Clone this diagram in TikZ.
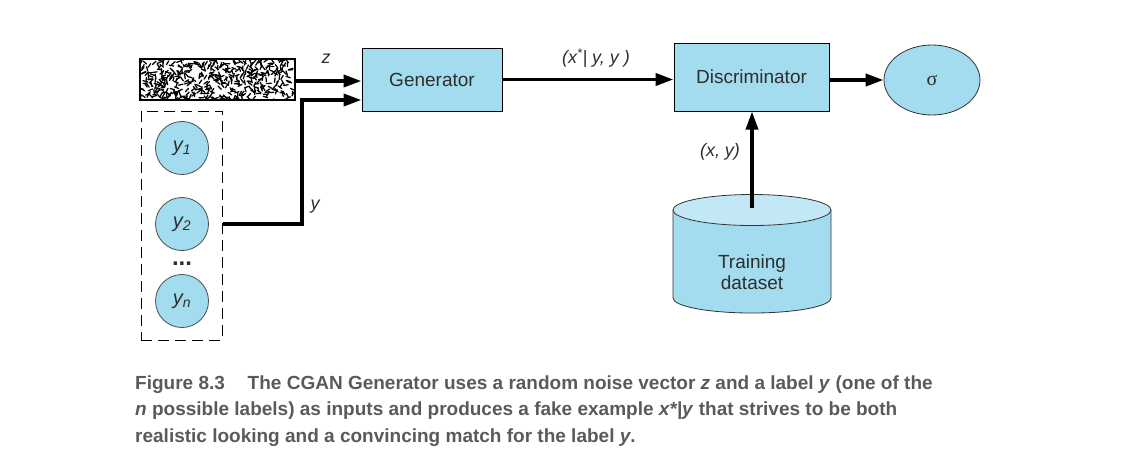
\documentclass[tikz,border=0pt]{standalone}
\usepackage{fontspec}
\setmainfont{Liberation Sans}
\newfontfamily\capfont{Liberation Sans}
\newfontfamily\serfont{Liberation Serif}
\usetikzlibrary{arrows.meta,shapes.geometric}
\definecolor{nodeblue}{HTML}{A3DCEF}
\definecolor{topblue}{HTML}{C2E8F6}
\definecolor{txt}{HTML}{2E2E2E}
\definecolor{capgray}{HTML}{5A5A5A}
\begin{document}
\begin{tikzpicture}[x=1pt,y=-1pt,
  box/.style={draw=black, line width=1pt, fill=nodeblue, inner sep=0pt, text=txt, font=\fontsize{19}{22}\selectfont},
  lab/.style={circle, draw=black!70, line width=0.8pt, fill=nodeblue, minimum size=53pt, inner sep=0pt, text=txt, font=\fontsize{20}{22}\selectfont\itshape},
  conn/.style={line width=3.8pt, -{Triangle[length=18pt,width=12pt]}},
  elab/.style={text=txt, font=\fontsize{18}{20}\selectfont\itshape, inner sep=0pt},
  capline/.style={anchor=base west, inner sep=0pt, text=capgray, font=\capfont\bfseries\fontsize{19}{22}\selectfont}
]
\useasboundingbox (0,0) rectangle (1143,475);

% noise vector
\node[draw=black, line width=1.2pt, minimum width=155pt, minimum height=41pt, inner sep=0pt] (noise) at (217.5,79.5) {};
\begin{scope}
  \clip (140,59) rectangle (295,100);
  \pgfmathsetseed{7}
  \foreach \i in {1,...,480}{
    \pgfmathsetmacro\px{140+155*rnd}
    \pgfmathsetmacro\py{59+41*rnd}
    \pgfmathsetmacro\an{360*rnd}
    \draw[line width=1.25pt, line cap=round] (\px,\py) -- ++(\an:4.5);
  }
\end{scope}
\draw[line width=1.2pt] (noise.south west) rectangle (noise.north east);

% label set
\node[draw=black, dashed, dash pattern=on 11pt off 6pt, line width=1pt, minimum width=81pt, minimum height=229pt, inner sep=0pt] (ybox) at (181.5,225.5) {};
\node[lab] (y1) at (182,148) {y\textsubscript{1}};
\node[lab] (y2) at (182,224) {y\textsubscript{2}};
\node[lab] (yn) at (182,301) {y\textsubscript{n}};
\node[font=\fontsize{24}{24}\selectfont\bfseries, text=txt, anchor=base, inner sep=0pt] (dots) at (182,265.5) {...};

% boxes
\node[box, minimum width=140pt, minimum height=63pt] (gen) at (432,79.5) {Generator};
\node[box, minimum width=155pt, minimum height=68pt] (disc) at (751.5,77) {Discriminator};
\node[ellipse, draw=black!80, line width=0.8pt, fill=nodeblue, minimum width=96pt, minimum height=70pt, inner sep=0pt, text=txt, font=\serfont\fontsize{20}{22}\selectfont] (sigma) at (932,80) {σ};

% training dataset cylinder
\fill[nodeblue] (673,210) -- (673,298) arc[start angle=180, end angle=0, x radius=79, y radius=15] -- (831,210) -- cycle;
\draw[black!80, line width=0.8pt] (673,210) -- (673,298) arc[start angle=180, end angle=0, x radius=79, y radius=15] -- (831,210);
\draw[black!80, line width=0.8pt, fill=topblue] (752,210) ellipse[x radius=79, y radius=15.5];
\node[text=txt, font=\fontsize{19}{21}\selectfont, align=center, inner sep=0pt] (data) at (752,272) {Training\\dataset};
\coordinate (cyltop) at (752,208);

% connectors
\draw[conn] (noise.east |- 0,81) -- (gen.west |- 0,81);
\draw[conn] (ybox.east |- y2.center) -- (302,224) |- ([yshift=-20.5pt]gen.west);
\draw[conn] (gen.east) -- (disc.west |- gen.east);
\draw[conn] (disc.east |- sigma.west) -- (sigma.west);
\draw[conn, line width=3.6pt] (cyltop) -- (cyltop |- disc.south);

% edge labels
\node[elab] (zl) at (326,59) {z};
\node[elab] (xl) at (596,58) {(x\textsuperscript{*}| y, y )};
\node[elab] (yl) at (315,207) {y};
\node[elab] (xyl) at (720,152) {(x, y)};

% caption
\node[capline] (c1) at (135,389) {Figure 8.3\hspace{1.2em}The CGAN Generator uses a random noise vector \textit{z} and a label \textit{y} (one of the};
\node[capline] (c2) at (135,415.5) {\textit{n} possible labels) as inputs and produces a fake example \textit{x*|y} that strives to be both};
\node[capline] (c3) at (135,442) {realistic looking and a convincing match for the label \textit{y}.};
\end{tikzpicture}
\end{document}
